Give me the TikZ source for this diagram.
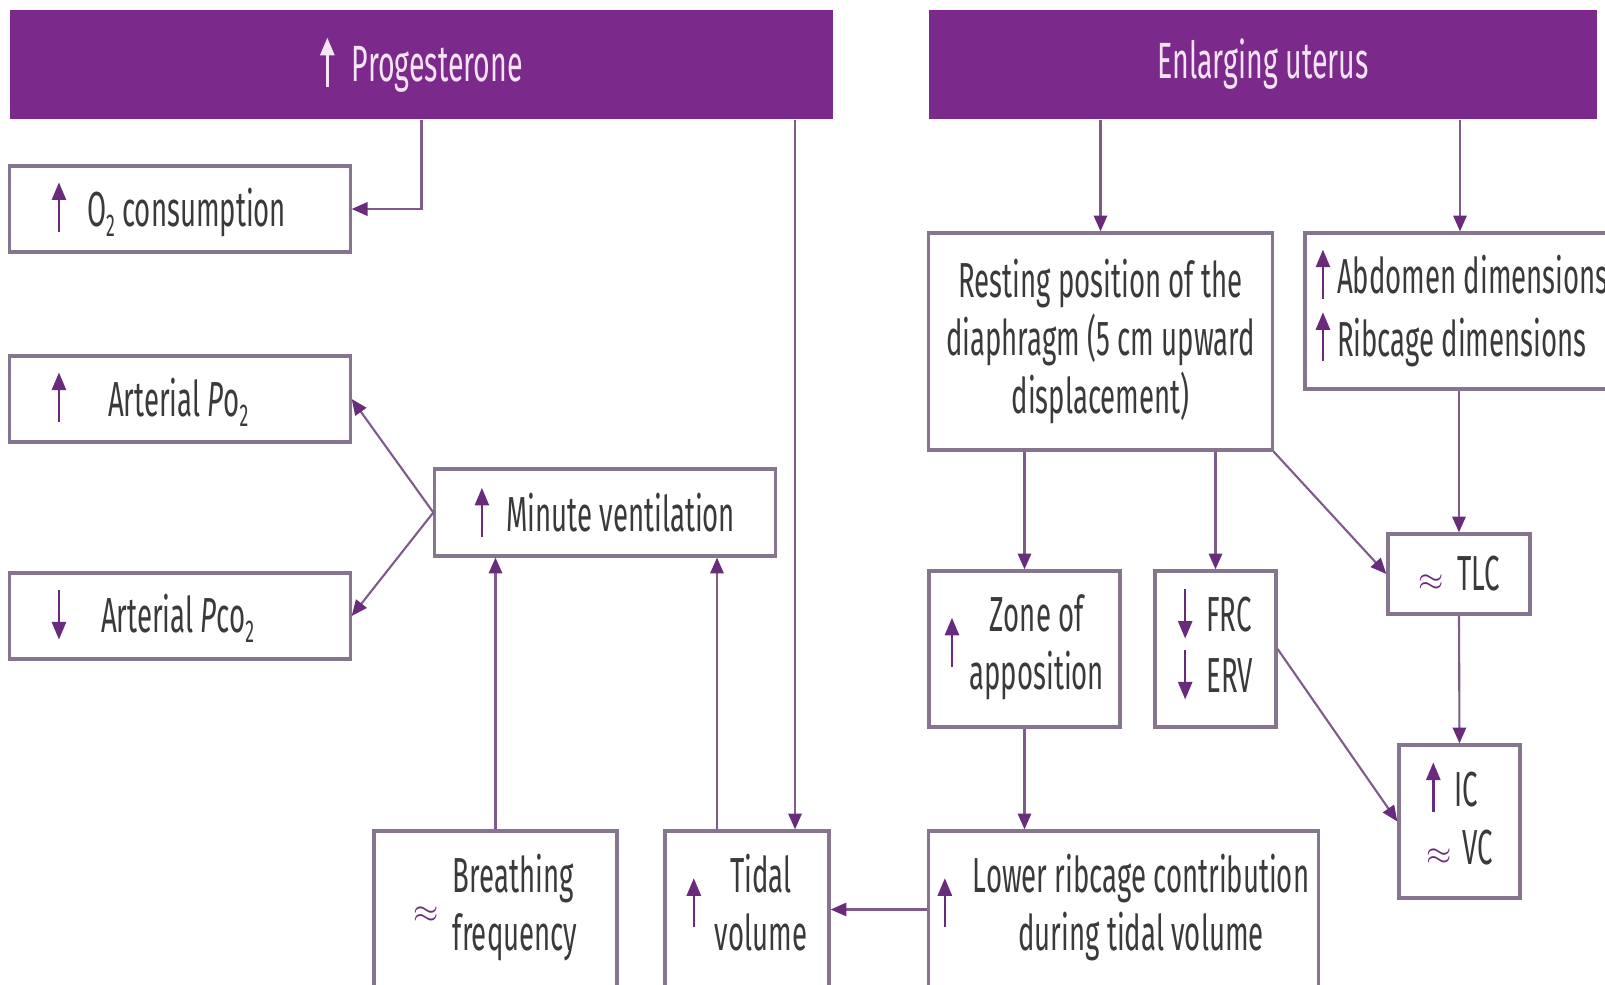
\documentclass[tikz,border=0pt]{standalone}
\usepackage{fontspec}
\setmainfont{Fira Sans}[FakeStretch=0.56]
\usepackage{tikz}
\usetikzlibrary{arrows.meta}

\definecolor{barpurple}{HTML}{7B2A8B}
\definecolor{bartext}{HTML}{F4E4F4}
\definecolor{boxline}{HTML}{86758F}
\definecolor{linkline}{HTML}{7D5C8C}
\definecolor{tippurple}{HTML}{6B2B7C}
\definecolor{txtgray}{HTML}{3A3A3A}

% small arrows and signs used inside the boxes
\newcommand{\upar}[1][tippurple]{\tikz[baseline=0pt]\draw[#1,line width=0.7pt,-{Triangle[length=5pt,width=4pt]}] (0pt,-1.5pt) -- (0pt,12.5pt);}
\newcommand{\dnar}{\tikz[baseline=0pt]\draw[tippurple,line width=0.7pt,-{Triangle[length=5pt,width=4pt]}] (0pt,12pt) -- (0pt,-2pt);}
\newcommand{\aprx}{{\color{tippurple}\fontsize{9}{9}\selectfont$\approx$}}
\newcommand{\subtwo}{\raisebox{-0.4ex}{\fontsize{9}{9}\selectfont 2}}

\begin{document}
\begin{tikzpicture}[x=0.01cm, y=-0.01cm,
  box/.style={draw=boxline, line width=0.9pt, fill=white, text=txtgray, align=center, inner sep=0pt, font=\fontsize{14}{16.5}\selectfont},
  bar/.style={fill=barpurple, text=bartext, inner sep=0pt, minimum height=1.09cm, font=\fontsize{14.5}{17}\selectfont},
  link/.style={draw=linkline, line width=0.6pt, -{Triangle[length=4.5pt,width=3.8pt,color=tippurple]}}]
\fill[white] (0,0) rectangle (1605,985);
\useasboundingbox (0,0) rectangle (1605,985);
%%% The two causes at the top
\node[bar, minimum width=8.23cm] (prog) at (421.5,64.5) {\upar[bartext]\hspace{5pt}Progesterone\hspace{0.28cm}};
\node[bar, minimum width=6.68cm] (uterus) at (1263,64.5) {Enlarging uterus};
%%% Progesterone side
\node[box, minimum height=0.86cm, inner xsep=0.42cm] (otwo) at (180,209) {\makebox[2.56cm][l]{\upar\hspace{6pt}O\subtwo\ consumption}};
\node[box, minimum height=0.86cm, inner xsep=0.42cm] (ptwo) at (180,399) {\makebox[2.56cm][l]{\upar\hspace{12pt}Arterial \textit{P}o\subtwo}};
\node[box, minimum height=0.86cm, inner xsep=0.42cm] (pcotwo) at (180,616) {\makebox[2.56cm][l]{\dnar\hspace{10pt}Arterial \textit{P}co\subtwo}};
\node[box, minimum width=3.4cm, minimum height=0.87cm] (minvent) at (605,512.5) {\upar\hspace{5pt}Minute ventilation};
\node[box, minimum width=2.43cm, minimum height=1.57cm] (breath) at (495.5,909.5) {\aprx\hspace{4pt}\begin{tabular}{@{}l@{}}Breathing\\frequency\end{tabular}};
\node[box, minimum width=1.64cm, minimum height=1.57cm] (tidal) at (747,909.5) {\upar\hspace{4pt}\begin{tabular}{@{}c@{}}Tidal\\volume\end{tabular}};
%%% Enlarging uterus side
\node[box, minimum width=3.43cm, minimum height=2.17cm] (rest) at (1100.5,341.5) {Resting position of the\\diaphragm (5 cm upward\\displacement)};
\node[box, minimum height=1.56cm, inner xsep=0.11cm] (abdo) at (1460,311) {\makebox[2.88cm][l]{\begin{tabular}{@{}l@{}}\upar\hspace{2pt}Abdomen dimensions\\\upar\hspace{2pt}Ribcage dimensions\end{tabular}}};
\node[box, minimum width=1.91cm, minimum height=1.56cm] (zone) at (1024.5,649) {\upar\hspace{3pt}\begin{tabular}{@{}c@{}}Zone of\\apposition\end{tabular}};
\node[box, minimum width=1.21cm, minimum height=1.56cm] (frc) at (1215.5,649) {\begin{tabular}{@{}l@{}}\dnar\hspace{4pt}FRC\\\dnar\hspace{4pt}ERV\end{tabular}};
\node[box, minimum width=1.42cm, minimum height=0.80cm] (tlc) at (1459,574) {\aprx\hspace{4pt}TLC};
\node[box, minimum width=1.21cm, minimum height=1.53cm] (icvc) at (1459.5,821.5) {\begin{tabular}{@{}l@{}}\upar\hspace{4pt}IC\\\aprx\hspace{3pt}VC\end{tabular}};
\node[box, minimum width=3.89cm, minimum height=1.57cm] (ribcage) at (1123.5,909.5) {\upar\hspace{6pt}\begin{tabular}{@{}c@{}}Lower ribcage contribution\\during tidal volume\end{tabular}};
%%% The edges from progesterone
\draw[link] (prog.south) |- (otwo.east);
\draw[link] ([xshift=0.48cm]tidal.north |- prog.south) -- ([xshift=0.48cm]tidal.north);
\draw[link] (minvent.west) -- (ptwo.east);
\draw[link] (minvent.west) -- (pcotwo.east);
\draw[link] (breath.north) -- (breath.north |- minvent.south);
\draw[link] ([xshift=-0.3cm]tidal.north) -- ([xshift=-0.3cm]tidal.north |- minvent.south);
%%% The edges from the enlarging uterus
\draw[link] (rest.north |- uterus.south) -- (rest.north);
\draw[link] (abdo.north |- uterus.south) -- (abdo.north);
\draw[link] (zone.north |- rest.south) -- (zone.north);
\draw[link] (frc.north |- rest.south) -- (frc.north);
\draw[link] (rest.south east) -- (tlc.west);
\draw[link] (tlc.north |- abdo.south) -- (tlc.north);
\draw[link] (tlc.south) -- (icvc.north);
\draw[link] (frc.east) -- (icvc.west);
\draw[link] (zone.south) -- (zone.south |- ribcage.north);
\draw[link] (ribcage.west) -- (tidal.east);
\end{tikzpicture}
\end{document}
